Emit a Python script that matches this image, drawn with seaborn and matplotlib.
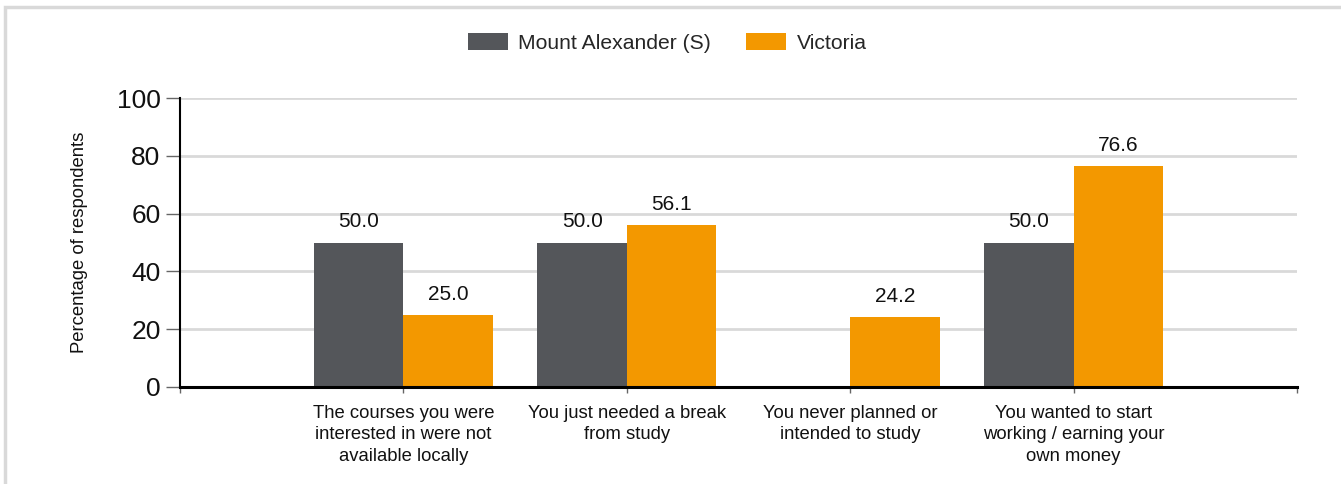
#!/usr/bin/env python3

import pandas as pd
import numpy as np
import matplotlib
matplotlib.use("Agg")
import matplotlib.pyplot as plt
from matplotlib.patches import Rectangle, Patch
import seaborn as sns


# ------------------ DATA ------------------

categories = [
    "The courses you were\ninterested in were not\navailable locally",
    "You just needed a break\nfrom study",
    "You never planned or\nintended to study",
    "You wanted to start\nworking / earning your\nown money",
]
mount_alexander = [50.0, 50.0, np.nan, 50.0]
victoria = [25.0, 56.1, 24.2, 76.6]

series_names = ["Mount Alexander (S)", "Victoria"]
yticks = [0, 20, 40, 60, 80, 100]


# ------------------ STYLE ------------------

sns.set_theme(style="white")
plt.rcParams["font.family"] = ["Liberation Sans", "DejaVu Sans"]

PALETTE = {
    "Mount Alexander (S)": "#54565a",
    "Victoria": "#f39800",
}


# ------------------ PLOT ------------------

df = pd.DataFrame({
    "category": categories * 2,
    "series": [series_names[0]] * len(categories) + [series_names[1]] * len(categories),
    "value": mount_alexander + victoria,
})

fig = plt.figure(figsize=(13.41, 4.84), dpi=100)
ax = fig.add_axes([180 / 1341, 97 / 484, (1297 - 180) / 1341, (387 - 98) / 484])

sns.barplot(
    data=df,
    x="category",
    y="value",
    hue="series",
    hue_order=series_names,
    order=categories,
    palette=PALETTE,
    width=0.8,
    saturation=1,
    errorbar=None,
    linewidth=0,
    ax=ax,
    zorder=3,
)

for cont in ax.containers:
    ax.bar_label(cont, fmt="%.1f", padding=8, fontsize=15, color="#111111")

ax.set_xlim(-1, 4)
ax.set_ylim(0, 100)
ax.set_xticks(range(-1, 5))
ax.set_xticklabels([""] + categories + [""], fontsize=13.3, color="#111111",
                   linespacing=1.33)
ax.set_yticks(yticks)
ax.set_yticklabels([str(t) for t in yticks], fontsize=19, color="#111111")

ax.yaxis.grid(True, color="#d9d9d9", linewidth=2)
ax.set_axisbelow(True)

ax.tick_params(axis="y", length=10, width=1, color="#666666", pad=4, left=True)
ax.tick_params(axis="x", length=4, width=1, color="#666666", pad=9, bottom=True)

for side in ["top", "right"]:
    ax.spines[side].set_visible(False)
ax.spines["left"].set_color("black")
ax.spines["left"].set_linewidth(1.5)
ax.spines["bottom"].set_color("black")
ax.spines["bottom"].set_linewidth(2.2)
ax.spines["bottom"].set_zorder(4)

ax.set_xlabel("")
ax.set_ylabel("Percentage of respondents", fontsize=13.3, color="#111111", labelpad=21)

# Legend at top
ax.get_legend().remove()
handles = [Patch(facecolor=PALETTE[s], edgecolor="none") for s in series_names]
fig.legend(
    handles,
    series_names,
    loc="center",
    bbox_to_anchor=(0.4975, 1 - 43 / 484),
    ncol=2,
    frameon=False,
    fontsize=15.2,
    handlelength=1.9,
    handleheight=0.86,
    handletextpad=0.5,
    columnspacing=1.65,
)

# light frame around chart
fig.patches.append(Rectangle(
    (5 / 1341, -0.1), 1.2, 1 - 7.5 / 484 + 0.1,
    transform=fig.transFigure, fill=False, edgecolor="#d9d9d9", linewidth=2.5,
))

fig.savefig("out.png", dpi=100)
plt.close(fig)
